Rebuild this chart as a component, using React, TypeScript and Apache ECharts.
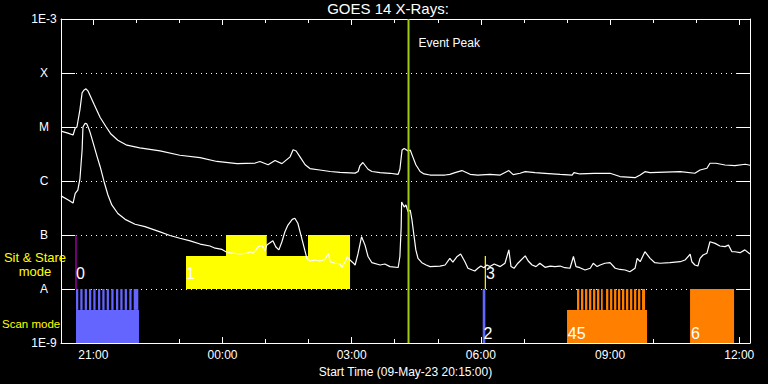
import React, { useEffect, useRef } from 'react';
import * as echarts from 'echarts';

const FONT = "'Liberation Sans', Arial, sans-serif";
const TITLE = 'GOES 14 X-Rays:';
const X_NAME = 'Start Time (09-May-23 20:15:00)';
const X_MAX_HOURS = 16; // hours after 20:15 UT

const hourTicks = [0.75, 1.75, 2.75, 3.75, 4.75, 5.75, 6.75, 7.75, 8.75, 9.75, 10.75, 11.75, 12.75, 13.75, 14.75, 15.75];
const labelTicks = [0.75, 3.75, 6.75, 9.75, 12.75, 15.75];
const labelTickText = ['21:00', '00:00', '03:00', '06:00', '09:00', '12:00'];
const fluxTicks = [1e-9, 1e-8, 1e-7, 1e-6, 1e-5, 1e-4, 1e-3];
const fluxTickText = ['1E-9', 'A', 'B', 'C', 'M', 'X', '1E-3'];

const eventPeakHour = 8.07;

// [hours after start, flux W/m^2]
const longChannel: [number, number][] = [
  [0, 8.4e-6], [0.16, 7.7e-6], [0.28, 7.1e-6], [0.33, 9.6e-6], [0.37, 1.0e-5], [0.44, 2.1e-5], [0.49, 4.3e-5],
  [0.53, 4.8e-5], [0.58, 5.1e-5], [0.63, 4.6e-5], [0.67, 3.9e-5], [0.77, 2.6e-5], [0.91, 1.5e-5], [1.05, 1.0e-5],
  [1.16, 7.4e-6], [1.32, 5.7e-6], [1.53, 4.6e-6], [1.83, 4.1e-6], [2.30, 3.6e-6], [2.76, 3.0e-6], [3.23, 2.7e-6],
  [3.62, 2.3e-6], [4.09, 2.1e-6], [4.51, 2.15e-6], [4.62, 2.3e-6], [4.81, 2.0e-6], [4.97, 2.4e-6], [5.13, 2.1e-6],
  [5.32, 2.8e-6], [5.39, 3.8e-6], [5.46, 3.6e-6], [5.55, 2.8e-6], [5.67, 2.0e-6], [5.78, 1.7e-6], [6.01, 1.6e-6],
  [6.25, 1.5e-6], [6.48, 1.45e-6], [6.83, 1.4e-6], [6.90, 1.5e-6], [6.94, 1.9e-6], [7.01, 2.2e-6], [7.13, 1.65e-6],
  [7.22, 1.5e-6], [7.41, 1.43e-6], [7.64, 1.39e-6], [7.83, 1.33e-6], [7.87, 1.65e-6], [7.92, 3.75e-6], [7.97, 4.0e-6],
  [8.06, 3.6e-6], [8.11, 3.75e-6], [8.17, 2.8e-6], [8.24, 2.0e-6], [8.34, 1.5e-6], [8.43, 1.35e-6], [8.57, 1.29e-6],
  [8.92, 1.29e-6], [9.03, 1.33e-6], [9.15, 1.43e-6], [9.31, 1.56e-6], [9.50, 1.33e-6], [9.68, 1.29e-6], [9.96, 1.33e-6],
  [10.20, 1.29e-6], [10.40, 1.56e-6], [10.50, 1.31e-6], [10.66, 1.39e-6], [10.78, 1.49e-6], [11.01, 1.43e-6],
  [11.24, 1.39e-6], [11.59, 1.33e-6], [11.87, 1.29e-6], [11.91, 1.43e-6], [12.05, 1.35e-6], [12.38, 1.39e-6],
  [12.75, 1.39e-6], [12.98, 1.21e-6], [13.33, 1.15e-6], [13.45, 1.29e-6], [13.56, 1.49e-6], [13.68, 1.43e-6],
  [14.38, 1.49e-6], [14.72, 1.39e-6], [14.84, 1.6e-6], [15.00, 1.72e-6], [15.07, 2.13e-6], [15.21, 2.13e-6],
  [15.42, 1.98e-6], [15.65, 1.92e-6], [15.89, 2.04e-6], [16.0, 1.96e-6],
];

const shortChannel: [number, number][] = [
  [0, 5.3e-7], [0.16, 4.5e-7], [0.28, 3.9e-7], [0.33, 5.9e-7], [0.39, 6.8e-7], [0.44, 1.1e-6], [0.49, 3.75e-6],
  [0.51, 1.0e-5], [0.56, 1.17e-5], [0.60, 1.14e-5], [0.63, 1.0e-5], [0.67, 8.2e-6], [0.74, 5.3e-6], [0.84, 2.8e-6],
  [0.91, 1.84e-6], [1.00, 9.7e-7], [1.09, 5.5e-7], [1.18, 3.6e-7], [1.32, 2.5e-7], [1.49, 1.95e-7], [1.72, 1.58e-7],
  [1.95, 1.43e-7], [2.30, 1.14e-7], [2.53, 9.8e-8], [2.76, 8.7e-8], [3.00, 7.8e-8], [3.23, 6.8e-8], [3.46, 6.25e-8],
  [3.58, 5.7e-8], [3.74, 5.4e-8], [3.83, 4.9e-8], [3.97, 4.6e-8], [4.16, 4.45e-8], [4.34, 4.6e-8], [4.39, 4.9e-8],
  [4.46, 4.6e-8], [4.51, 5.1e-8], [4.58, 6.1e-8], [4.67, 6.4e-8], [4.74, 5.1e-8], [4.78, 6.5e-8], [4.92, 7.8e-8],
  [4.99, 6.0e-8], [5.06, 5.3e-8], [5.13, 7.5e-8], [5.20, 1.15e-7], [5.27, 1.53e-7], [5.37, 1.95e-7], [5.43, 2.04e-7],
  [5.50, 1.65e-7], [5.60, 8.1e-8], [5.71, 3.7e-8], [5.78, 3.3e-8], [5.90, 3.44e-8], [6.01, 3.3e-8], [6.13, 3.54e-8],
  [6.21, 4.6e-8], [6.25, 3.2e-8], [6.36, 3.0e-8], [6.48, 2.9e-8], [6.52, 2.5e-8], [6.60, 3.2e-8], [6.65, 4.0e-8],
  [6.71, 3.44e-8], [6.78, 3.07e-8], [6.83, 2.78e-8], [6.90, 4.6e-8], [6.98, 9.3e-8], [7.06, 6.5e-8], [7.13, 4.0e-8],
  [7.22, 3.07e-8], [7.41, 2.78e-8], [7.52, 2.9e-8], [7.64, 2.6e-8], [7.83, 2.5e-8], [7.87, 4.0e-8], [7.90, 1.43e-7],
  [7.91, 4.1e-7], [7.97, 3.3e-7], [8.01, 3.6e-7], [8.06, 2.7e-7], [8.11, 2.9e-7], [8.15, 1.9e-7], [8.20, 9.3e-8],
  [8.24, 5.3e-8], [8.29, 3.7e-8], [8.38, 3.07e-8], [8.48, 2.78e-8], [8.57, 2.6e-8], [8.80, 2.66e-8], [8.92, 2.78e-8],
  [9.03, 3.7e-8], [9.10, 3.16e-8], [9.20, 4.0e-8], [9.28, 4.45e-8], [9.38, 3.2e-8], [9.45, 2.42e-8], [9.55, 2.25e-8],
  [9.61, 2.16e-8], [9.68, 2.42e-8], [9.75, 2.66e-8], [9.82, 2.48e-8], [9.89, 2.78e-8], [9.96, 2.6e-8], [10.06, 2.9e-8],
  [10.20, 2.6e-8], [10.31, 3.0e-8], [10.40, 5.3e-8], [10.45, 2.6e-8], [10.52, 2.42e-8], [10.61, 3.0e-8], [10.78, 4.1e-8],
  [10.85, 3.3e-8], [10.94, 2.78e-8], [11.03, 2.6e-8], [11.12, 3.0e-8], [11.24, 2.52e-8], [11.36, 2.66e-8],
  [11.47, 2.6e-8], [11.59, 2.66e-8], [11.70, 2.48e-8], [11.82, 2.42e-8], [11.90, 4.0e-8], [11.96, 2.6e-8],
  [12.05, 2.48e-8], [12.17, 2.25e-8], [12.29, 2.42e-8], [12.36, 3.0e-8], [12.45, 2.6e-8], [12.52, 2.78e-8],
  [12.63, 3.0e-8], [12.75, 3.07e-8], [12.87, 2.42e-8], [12.98, 2.3e-8], [13.10, 2.25e-8], [13.21, 2.09e-8],
  [13.33, 2.42e-8], [13.38, 3.7e-8], [13.45, 3.2e-8], [13.56, 4.9e-8], [13.68, 3.7e-8], [13.79, 3.07e-8],
  [13.91, 3.0e-8], [14.14, 3.07e-8], [14.38, 3.2e-8], [14.49, 3.44e-8], [14.61, 4.4e-8], [14.65, 3.2e-8],
  [14.72, 2.78e-8], [14.79, 2.66e-8], [14.84, 3.7e-8], [14.91, 4.26e-8], [15.00, 4.6e-8], [15.07, 7.5e-8],
  [15.19, 7.0e-8], [15.30, 6.25e-8], [15.42, 6.1e-8], [15.50, 6.5e-8], [15.58, 4.9e-8], [15.65, 4.9e-8],
  [15.77, 4.7e-8], [15.88, 5.3e-8], [16.0, 4.45e-8],
];

// observation blocks: [start h, end h, low flux, high flux]
const blueScanBlocks: [number, number, number, number][] = [
  [0.348, 1.811, 1e-9, 4.1e-9],
  [0.348, 0.401, 4.1e-9, 1e-8], [0.448, 0.501, 4.1e-9, 1e-8], [0.550, 0.603, 4.1e-9, 1e-8],
  [0.650, 0.703, 4.1e-9, 1e-8], [0.750, 0.803, 4.1e-9, 1e-8], [0.859, 0.912, 4.1e-9, 1e-8],
  [0.959, 1.012, 4.1e-9, 1e-8], [1.061, 1.114, 4.1e-9, 1e-8], [1.168, 1.221, 4.1e-9, 1e-8],
  [1.277, 1.330, 4.1e-9, 1e-8], [1.377, 1.430, 4.1e-9, 1e-8], [1.479, 1.532, 4.1e-9, 1e-8],
  [1.586, 1.639, 4.1e-9, 1e-8], [1.688, 1.795, 4.1e-9, 1e-8],
  [9.793, 9.854, 1e-9, 1e-8],
];

const orangeScanBlocks: [number, number, number, number][] = [
  [11.751, 13.609, 1e-9, 4.1e-9],
  [11.983, 12.036, 4.1e-9, 1e-8], [12.076, 12.129, 4.1e-9, 1e-8], [12.169, 12.222, 4.1e-9, 1e-8],
  [12.262, 12.315, 4.1e-9, 1e-8], [12.355, 12.408, 4.1e-9, 1e-8], [12.448, 12.501, 4.1e-9, 1e-8],
  [12.541, 12.580, 4.1e-9, 1e-8], [12.657, 12.710, 4.1e-9, 1e-8], [12.750, 12.803, 4.1e-9, 1e-8],
  [12.843, 12.896, 4.1e-9, 1e-8], [12.935, 12.988, 4.1e-9, 1e-8], [13.028, 13.081, 4.1e-9, 1e-8],
  [13.121, 13.174, 4.1e-9, 1e-8], [13.214, 13.267, 4.1e-9, 1e-8], [13.307, 13.360, 4.1e-9, 1e-8],
  [13.400, 13.453, 4.1e-9, 1e-8], [13.493, 13.562, 4.1e-9, 1e-8],
  [14.608, 15.630, 1e-9, 1e-8],
];

const yellowStareBlocks: [number, number, number, number][] = [
  [2.903, 6.712, 1e-8, 4.1e-8],
  [3.832, 4.777, 4.1e-8, 1e-7],
  [5.736, 6.712, 4.1e-8, 1e-7],
];

// short sit & stare markers: [hour, low flux, high flux]
const magentaStareMarks: [number, number, number][] = [[0.348, 1e-8, 1e-7]];
const yellowStareMarks: [number, number, number][] = [[9.854, 1e-8, 4.1e-8]];

// observation numbers: [text, hour, flux anchor]
const obsLabels: [string, number, number][] = [
  ['0', 0.348, 1.4e-8],
  ['1', 2.903, 1.4e-8],
  ['2', 9.81, 1.05e-9],
  ['3', 9.87, 1.4e-8],
  ['45', 11.77, 1.05e-9],
  ['6', 14.63, 1.05e-9],
];

const lg = (v: number) => Math.log10(v);

function rectSeries(blocks: [number, number, number, number][], color: string, z: number) {
  return {
    type: 'custom',
    z,
    clip: false,
    silent: true,
    data: blocks.map((b) => [b[0], b[1], lg(b[2]), lg(b[3])]),
    encode: { x: [0, 1], y: [2, 3] },
    renderItem: (_p: any, api: any) => {
      const p0 = api.coord([api.value(0), api.value(3)]);
      const p1 = api.coord([api.value(1), api.value(2)]);
      return {
        type: 'rect',
        shape: { x: p0[0], y: p0[1], width: p1[0] - p0[0], height: p1[1] - p0[1] },
        style: { fill: color },
      };
    },
  };
}

function markSeries(marks: [number, number, number][], color: string, z: number) {
  return {
    type: 'custom',
    z,
    clip: false,
    silent: true,
    data: marks.map((m) => [m[0], lg(m[1]), lg(m[2])]),
    encode: { x: 0, y: [1, 2] },
    renderItem: (_p: any, api: any) => {
      const a = api.coord([api.value(0), api.value(1)]);
      const b = api.coord([api.value(0), api.value(2)]);
      return {
        type: 'line',
        shape: { x1: a[0], y1: a[1], x2: b[0], y2: b[1] },
        style: { stroke: color, lineWidth: 1.2 },
      };
    },
  };
}

function fluxLabel(v: number) {
  const i = fluxTicks.findIndex((t) => Math.abs(lg(t) - v) < 0.01);
  return i >= 0 ? fluxTickText[i] : '';
}

function timeLabel(v: number) {
  const i = labelTicks.findIndex((t) => Math.abs(t - v) < 0.01);
  return i >= 0 ? labelTickText[i] : '';
}

export default function App() {
  const ref = useRef<HTMLDivElement>(null);
  useEffect(() => {
    if (!ref.current) return;
    const chart = echarts.init(ref.current, undefined, { renderer: 'svg' });
    const white = '#ffffff';
    const baseX = { type: 'value', min: 0, max: X_MAX_HOURS, splitLine: { show: false } };
    const option: any = {
      animation: false,
      backgroundColor: '#000000',
      title: {
        text: TITLE,
        left: 388,
        top: 1,
        textAlign: 'center',
        padding: 0,
        textStyle: { color: white, fontSize: 15, fontWeight: 'normal', fontFamily: FONT },
      },
      grid: { left: 61, top: 19, width: 689, height: 324, containLabel: false },
      xAxis: [
        {
          ...baseX,
          position: 'bottom',
          name: X_NAME,
          nameLocation: 'middle',
          nameGap: 18,
          nameTextStyle: { color: white, fontSize: 12, fontFamily: FONT },
          axisLine: { show: true, onZero: false, lineStyle: { color: white, width: 1 } },
          axisTick: { show: true, inside: true, length: 6, customValues: labelTicks, lineStyle: { color: white } },
          axisLabel: { show: true, customValues: labelTicks, formatter: timeLabel, color: white, fontSize: 12, fontFamily: FONT, margin: 6 },
        },
        {
          ...baseX,
          position: 'bottom',
          axisLine: { show: false, onZero: false },
          axisTick: { show: true, inside: true, length: 4, customValues: hourTicks, lineStyle: { color: white } },
          axisLabel: { show: false },
        },
        {
          ...baseX,
          position: 'top',
          axisLine: { show: true, onZero: false, lineStyle: { color: white, width: 1 } },
          axisTick: { show: true, inside: true, length: 6, customValues: labelTicks, lineStyle: { color: white } },
          axisLabel: { show: false },
        },
        {
          ...baseX,
          position: 'top',
          axisLine: { show: false, onZero: false },
          axisTick: { show: true, inside: true, length: 4, customValues: hourTicks, lineStyle: { color: white } },
          axisLabel: { show: false },
        },
      ],
      yAxis: [
        {
          type: 'value',
          position: 'left',
          min: -9,
          max: -3,
          interval: 1,
          axisLine: { show: true, onZero: false, lineStyle: { color: white, width: 1 } },
          axisTick: { show: true, inside: true, length: 14, lineStyle: { color: white } },
          axisLabel: {
            show: true,
            formatter: fluxLabel,
            color: white,
            fontSize: 12,
            fontFamily: FONT,
            margin: 17,
            align: 'center',
            showMinLabel: true,
            showMaxLabel: true,
          },
          splitLine: { show: true, lineStyle: { color: white, type: [1, 4], width: 1 } },
        },
        {
          type: 'value',
          position: 'right',
          min: -9,
          max: -3,
          interval: 1,
          axisLine: { show: true, onZero: false, lineStyle: { color: white, width: 1 } },
          axisTick: { show: true, inside: true, length: 14, lineStyle: { color: white } },
          axisLabel: { show: false },
          splitLine: { show: false },
        },
      ],
      graphic: [
        {
          type: 'text',
          x: 35,
          y: 264,
          style: {
            text: 'Sit & Stare\nmode',
            fill: '#ffff00',
            fontSize: 13,
            fontFamily: FONT,
            textAlign: 'center',
            verticalAlign: 'middle',
            lineHeight: 14,
          },
        },
        {
          type: 'text',
          x: 2,
          y: 324,
          style: {
            text: 'Scan mode',
            fill: '#ffff00',
            fontSize: 11.5,
            fontFamily: FONT,
            textAlign: 'left',
            verticalAlign: 'middle',
          },
        },
      ],
      series: [
        rectSeries(yellowStareBlocks, '#ffff00', 1),
        rectSeries(blueScanBlocks, '#6464ff', 1),
        rectSeries(orangeScanBlocks, '#ff8000', 1),
        markSeries(magentaStareMarks, '#c000c0', 2),
        markSeries(yellowStareMarks, '#ffff00', 2),
        {
          type: 'line',
          z: 5,
          data: longChannel.map((d) => [d[0], lg(d[1])]),
          showSymbol: false,
          symbol: 'none',
          silent: true,
          lineStyle: { color: white, width: 1.2 },
        },
        {
          type: 'line',
          z: 5,
          data: shortChannel.map((d) => [d[0], lg(d[1])]),
          showSymbol: false,
          symbol: 'none',
          silent: true,
          lineStyle: { color: white, width: 1.2 },
        },
        {
          type: 'custom',
          z: 6,
          clip: false,
          silent: true,
          data: [[eventPeakHour, -9, -3]],
          encode: { x: 0, y: [1, 2] },
          renderItem: (_p: any, api: any) => {
            const top = api.coord([api.value(0), api.value(2)]);
            const bot = api.coord([api.value(0), api.value(1)]);
            return {
              type: 'group',
              children: [
                {
                  type: 'line',
                  shape: { x1: top[0], y1: top[1], x2: bot[0], y2: bot[1] },
                  style: { stroke: '#a0cc10', lineWidth: 2 },
                },
                {
                  type: 'text',
                  x: top[0] + 10,
                  y: top[1] + 24,
                  style: { text: 'Event Peak', fill: white, fontSize: 12, fontFamily: FONT, verticalAlign: 'middle' },
                },
              ],
            };
          },
        },
        {
          type: 'custom',
          z: 7,
          clip: false,
          silent: true,
          data: obsLabels.map((l) => [l[1], lg(l[2]), l[0]]),
          encode: { x: 0, y: 1 },
          renderItem: (_p: any, api: any) => {
            const p = api.coord([api.value(0), api.value(1)]);
            return {
              type: 'text',
              x: p[0],
              y: p[1],
              style: {
                text: String(api.value(2)),
                fill: white,
                fontSize: 16,
                fontFamily: FONT,
                textAlign: 'left',
                verticalAlign: 'bottom',
              },
            };
          },
        },
      ],
    };
    chart.setOption(option);
    return () => chart.dispose();
  }, []);
  return (
    <div
      ref={ref}
      style={{ position: 'absolute', left: 0, top: 0, width: 768, height: 384, background: '#000' }}
    />
  );
}
